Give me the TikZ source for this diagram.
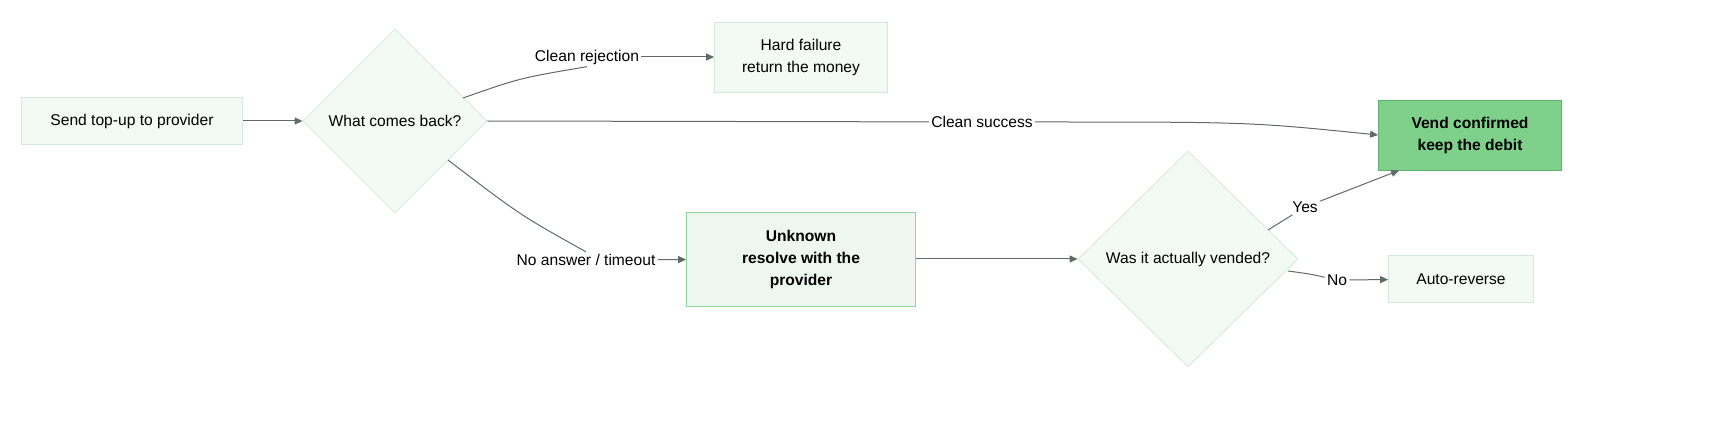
\documentclass[tikz,border=0pt]{standalone}
\usepackage{fontspec}
\setmainfont{Liberation Sans}
\definecolor{paleFill}{HTML}{F3F9F4}
\definecolor{paleLine}{HTML}{D3EAD7}
\definecolor{midFill}{HTML}{EDF7EF}
\definecolor{midLine}{HTML}{8ED99B}
\definecolor{okFill}{HTML}{7ED08A}
\definecolor{okLine}{HTML}{5DB56B}
\definecolor{edgeGrey}{HTML}{5F6B64}
\usetikzlibrary{shapes.geometric, arrows.meta, positioning, calc}

\begin{document}
\begin{tikzpicture}[
    x=0.5pt, y=-0.5pt,
    font=\fontsize{7.8}{11}\selectfont,
    box/.style={rectangle, draw=paleLine, fill=paleFill, align=center, inner sep=0pt},
    ask/.style={diamond, draw=paleLine, fill=paleFill, align=center, inner sep=0pt},
    arrow/.style={-{Triangle[length=4pt,width=3.5pt]}, edgeGrey, line width=0.5pt},
    wire/.style={edgeGrey, line width=0.5pt},
    tag/.style={fill=white, inner sep=1pt}
]
    \useasboundingbox (0,0) rectangle (1712,427);

    \node[box, minimum width=110.5pt, minimum height=23.5pt] (send) at (132,121) {Send top-up to provider};
    \node[ask, minimum width=92pt, minimum height=92pt] (what) at (395,121) {What comes back?};
    \node[box, minimum width=86.5pt, minimum height=35pt] (hard) at (801,57) {Hard failure\\return the money};
    \node[box, draw=okLine, fill=okFill, minimum width=91.5pt, minimum height=35pt, font=\fontsize{7.8}{11}\selectfont\bfseries] (vend) at (1470,135) {Vend confirmed\\keep the debit};
    \node[box, draw=midLine, fill=midFill, minimum width=114.5pt, minimum height=47pt, font=\fontsize{7.8}{11}\selectfont\bfseries] (unknown) at (801,259) {Unknown\\resolve with the\\provider};
    \node[ask, minimum width=110pt, minimum height=108pt] (vended) at (1188,259) {Was it actually vended?};
    \node[box, minimum width=72.5pt, minimum height=23.5pt] (reverse) at (1461,279) {Auto-reverse};

    % edge labels
    \node[tag] (lrej) at (587,57) {Clean rejection};
    \node[tag] (lok) at (982,122) {Clean success};
    \node[tag] (lnone) at (586,260) {No answer / timeout};
    \node[tag] (lyes) at (1305,207) {Yes};
    \node[tag] (lno) at (1337,280) {No};

    \draw[arrow] (send) -- (what);
    \draw[wire] ($(what)+(68,-23)$) .. controls (520,78) .. (lrej.south);
    \draw[arrow] (lrej) -- (hard);
    \draw[wire] (what.east) -- (lok);
    \draw[arrow] (lok) .. controls (1250,122) .. (vend.west);
    \draw[wire] ($(what)+(53,39)$) .. controls (520,215) .. (lnone.north);
    \draw[arrow] (lnone) -- (unknown);
    \draw[arrow] (unknown) -- (vended);
    \draw[wire] ($(vended)+(80,-29)$) -- (lyes);
    \draw[arrow] (lyes) -- ($(vend.south west)+(21,0)$);
    \draw[wire] ($(vended)+(100,12)$) .. controls (1310,274) .. (lno);
    \draw[arrow] (lno) -- (reverse);
\end{tikzpicture}
\end{document}
